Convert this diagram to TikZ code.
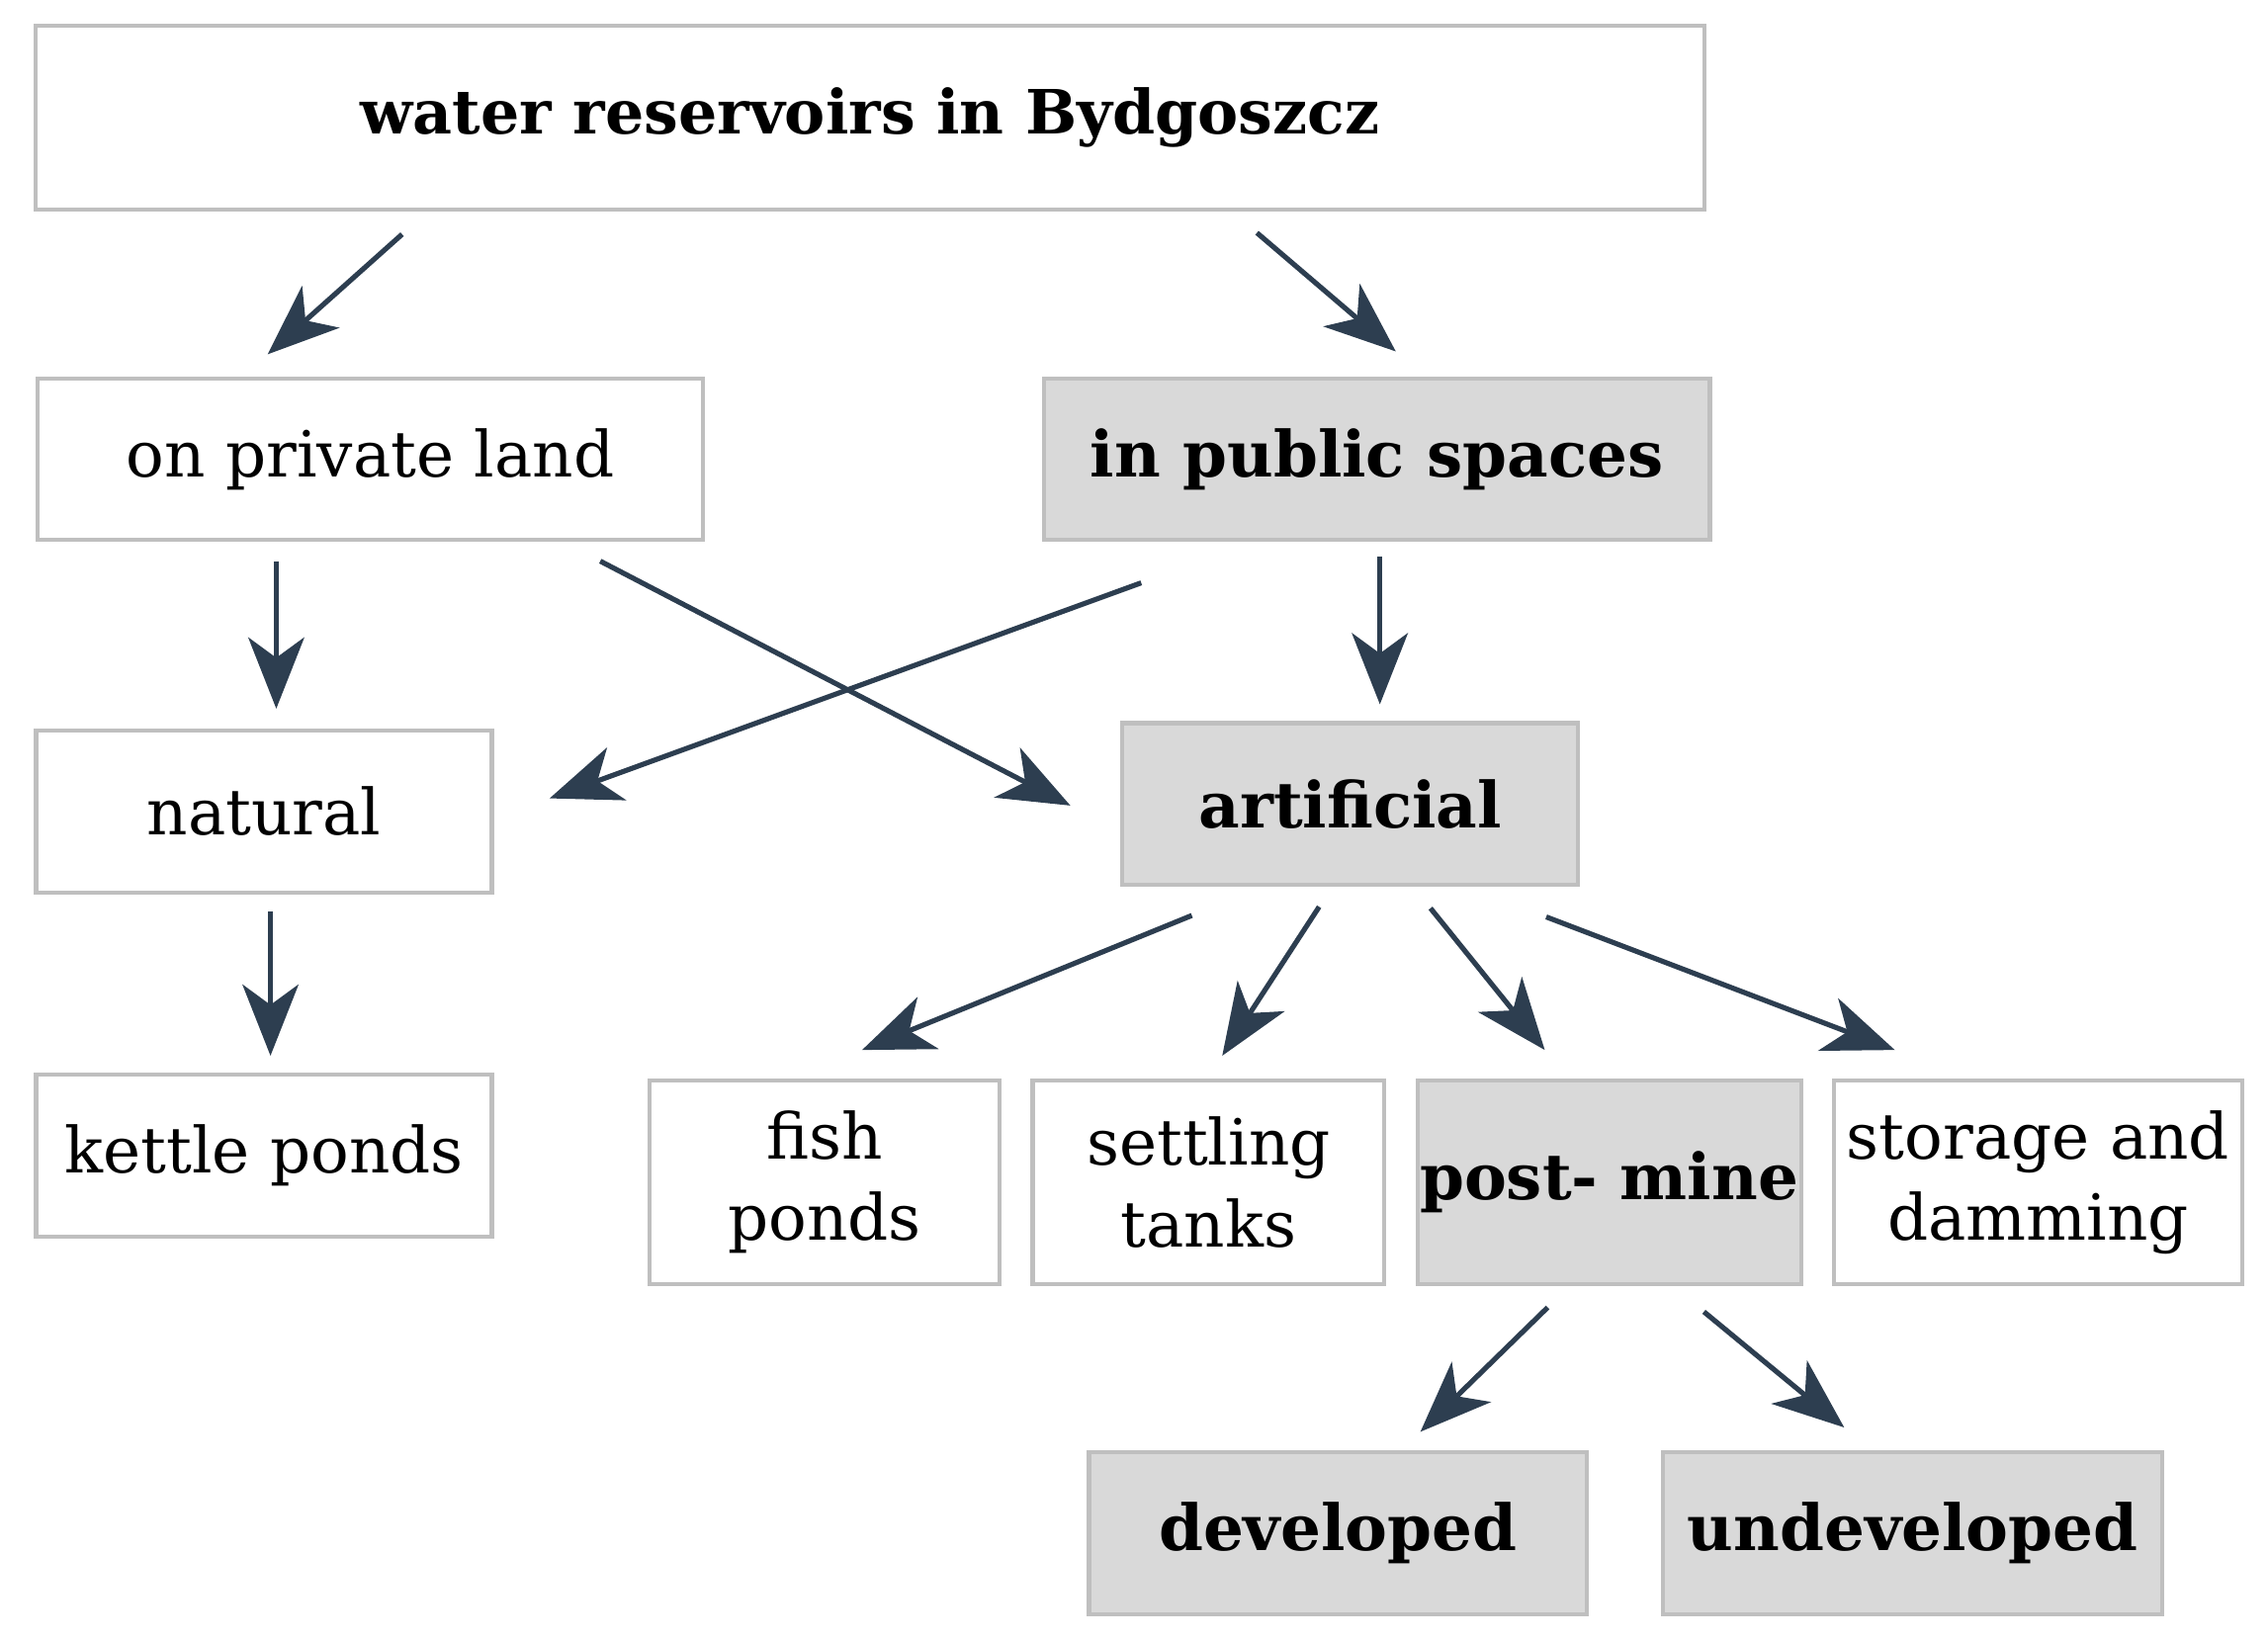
\documentclass[tikz,border=0pt]{standalone}
\usepackage{fontspec}
\setmainfont{DejaVu Serif}
\usetikzlibrary{arrows.meta}
\begin{document}
\begin{tikzpicture}[x=0.01cm,y=-0.01cm,
 box/.style={draw=black!25,line width=0.8pt,fill=white,inner sep=0pt,align=center,font=\fontsize{12.5}{16}\selectfont},
 gbox/.style={box,fill=black!15,font=\fontsize{12.5}{16}\selectfont\bfseries},
 arr/.style={draw=black!60!blue!40!black,color={rgb,255:red,45;green,62;blue,80},line width=1pt,-{Stealth[length=14pt,width=11pt,inset=4pt]}}]
\useasboundingbox (0,0) rectangle (1568,1134);
\newcommand\bx[6]{\node[#1,minimum width={(#4-#2)*0.01cm},minimum height={(#5-#3)*0.01cm}] (#6) at ({(#2+#4)/2},{(#3+#5)/2}) {};}
\node[box,minimum width=11.53cm,minimum height=1.27cm,font=\fontsize{12}{16}\selectfont\bfseries] (top) at (601.5,81.5) {water reservoirs in Bydgoszcz};
\node[box,minimum width=4.6cm,minimum height=1.11cm] (priv) at (256,317.5) {on private land};
\node[gbox,minimum width=4.6cm,minimum height=1.11cm] (pub) at (952,317.5) {in public spaces};
\node[box,minimum width=3.15cm,minimum height=1.12cm] (nat) at (182.5,561) {natural};
\node[gbox,minimum width=3.15cm,minimum height=1.12cm] (art) at (933.5,556) {artificial};
\node[box,minimum width=3.15cm,minimum height=1.12cm] (ket) at (182.5,799) {kettle ponds};
\node[box,minimum width=2.42cm,minimum height=1.41cm] (fish) at (570,817.5) {fish\\ponds};
\node[box,minimum width=2.43cm,minimum height=1.41cm] (set) at (835.5,817.5) {settling\\tanks};
\node[gbox,minimum width=2.65cm,minimum height=1.41cm] (pm) at (1112.5,817.5) {post- mine};
\node[box,minimum width=2.82cm,minimum height=1.41cm] (sto) at (1409,817.5) {storage and\\damming};
\node[gbox,minimum width=3.44cm,minimum height=1.12cm] (dev) at (925,1060) {developed};
\node[gbox,minimum width=3.45cm,minimum height=1.12cm] (und) at (1322.5,1060) {undeveloped};
\foreach \n/\a/\b/\c/\d in {a/278/162/185/245,b/869/161/965/243,c/191/388/191/490,d/415/388/740/557,e/789/403/380/552,f/954/385/954/487,g/187/630/187/730,h/824/633/596/726,i/912/627/845/730,j/989/628/1068/726,k/1069/634/1310/726,l/1070/904/982/990,m/1178/907/1275/987}{
 \coordinate (\n1) at (\a,\b); \coordinate (\n2) at (\c,\d); \draw[arr] (\n1) -- (\n2);}
\end{tikzpicture}
\end{document}
